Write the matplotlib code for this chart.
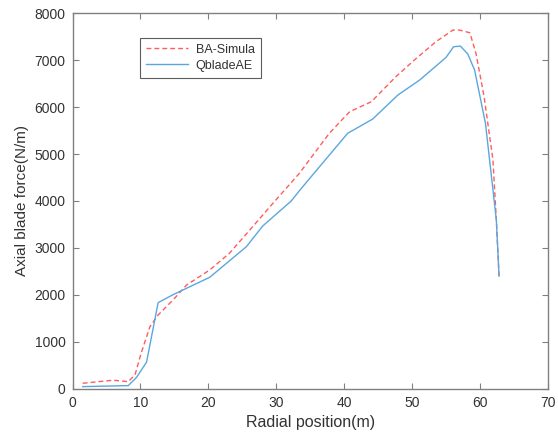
import numpy as np
import matplotlib.pyplot as plt

plt.rcParams['font.family'] = ['Liberation Sans', 'DejaVu Sans']

# radial position (m) and axial force (N/m) for the two codes
r_ba = [1.5, 6.0, 8.2, 9.2, 10.1, 11.4, 12.6, 14.8, 16.8, 20.2, 23.1, 26.1, 29.5,
        33.4, 37.8, 40.8, 44.0, 47.6, 50.6, 53.5, 56.0, 57.0, 58.5, 59.4, 60.6,
        61.9, 62.4, 62.8]
f_ba = [120, 185, 155, 300, 760, 1326, 1574, 1894, 2213, 2532, 2887, 3383, 3950,
        4589, 5440, 5900, 6113, 6645, 7035, 7390, 7638, 7638, 7581, 7142, 6219,
        4872, 3596, 2400]

r_qb = [1.5, 8.2, 9.4, 10.9, 12.6, 14.8, 20.2, 25.6, 28.0, 32.2, 33.4, 40.5, 44.2,
        47.9, 51.1, 55.0, 56.1, 57.1, 58.2, 59.2, 60.8, 62.4, 62.8]
f_qb = [49, 70, 240, 570, 1836, 2006, 2376, 3028, 3468, 4000, 4219, 5440, 5745,
        6255, 6574, 7057, 7283, 7298, 7128, 6787, 5652, 3596, 2404]

fig = plt.figure(figsize=(5.58, 4.36), dpi=100)
ax = fig.add_axes([0.130, 0.108, 0.852, 0.862])

ax.plot(r_ba, f_ba, color='#ff5c5c', ls='--', lw=1.0, dashes=(3.5, 2.2), label='BA-Simula')
ax.plot(r_qb, f_qb, color='#5aa7dd', lw=1.0, label='QbladeAE')

ax.set_xlim(0, 70)
ax.set_ylim(0, 8000)
ax.set_xticks(np.arange(0, 71, 10))
ax.set_yticks(np.arange(0, 8001, 1000))

grey = '#808080'
for s in ax.spines.values():
    s.set_color(grey)
    s.set_linewidth(1.0)
ax.tick_params(direction='in', top=True, right=True, length=4, width=0.8,
               color=grey, labelcolor='#333333', labelsize=10, pad=5)

ax.set_xlabel('Radial position(m)', fontsize=11.5, color='#333333', labelpad=4)
ax.set_ylabel('Axial blade force(N/m)', fontsize=11, color='#333333', labelpad=4)

leg = ax.legend(loc='upper left', bbox_to_anchor=(0.141, 0.935), fontsize=9,
                frameon=True, fancybox=False, handlelength=3.4, handletextpad=0.6,
                borderpad=0.5, labelspacing=0.3, borderaxespad=0)
leg.get_frame().set_edgecolor('#333333')
leg.get_frame().set_linewidth(0.8)
for t in leg.get_texts():
    t.set_color('#333333')

fig.savefig('out.png', dpi=100)
